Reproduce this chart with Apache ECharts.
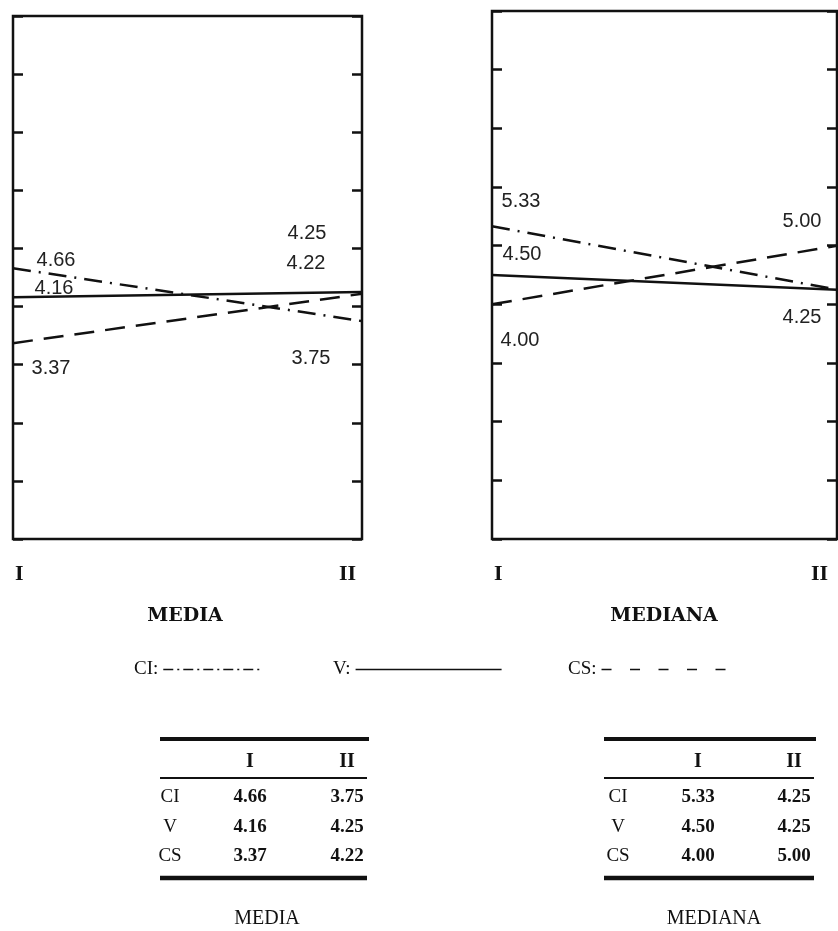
<!DOCTYPE html>
<html>
<head>
<meta charset="utf-8">
<script src="https://cdn.jsdelivr.net/npm/echarts@6/dist/echarts.min.js"></script>
<style>
html,body{margin:0;padding:0;background:#fff;}
#chart{width:838px;height:931px;}
</style>
</head>
<body>
<div id="chart"></div>
<script>
// ---- data ----
const categories = ['I', 'II'];
const seriesNames = ['CI', 'V', 'CS'];
const mediaCI = [4.66, 3.75];
const mediaV = [4.16, 4.25];
const mediaCS = [3.37, 4.22];
const medianaCI = [5.33, 4.25];
const medianaV = [4.50, 4.25];
const medianaCS = [4.00, 5.00];
const yMin = 0, yMax = 9, yStep = 1;
const panelTitles = ['MEDIA', 'MEDIANA'];

// ---- layout (label offsets relative to points; null = hidden) ----
const mediaOffsets = {
  CI: [[43, -8], [-51, 37]],
  V: [[41, -9], [-55, -59]],
  CS: [[38, 25], [-56, -30]]
};
const medianaOffsets = {
  CI: [[29, -25], null],
  V: [[30, -21], [-35, 28]],
  CS: [[28, 36], [-35, -24]]
};

const dashStyles = {
  CI: [18, 8, 2, 8],
  V: 'solid',
  CS: [20, 11]
};
const legendDash = {
  CI: [10, 4, 2, 4],
  V: 'solid',
  CS: [10, 18.5]
};

const chart = echarts.init(document.getElementById('chart'));

function buildData(values, offsets) {
  return values.map((v, i) => {
    const off = offsets[i];
    return {
      value: v,
      label: off ? { show: true, offset: off } : { show: false }
    };
  });
}

function makeSeries(name, values, offsets, gridIdx) {
  return {
    type: 'line',
    name: name,
    xAxisIndex: gridIdx,
    yAxisIndex: gridIdx * 2,
    data: buildData(values, offsets),
    symbol: 'circle',
    symbolSize: 1,
    showAllSymbol: true,
    itemStyle: { color: 'rgba(0,0,0,0)', borderWidth: 0 },
    lineStyle: { color: '#111', width: 2.5, type: dashStyles[name], cap: 'butt' },
    label: {
      show: true,
      position: 'inside',
      formatter: p => Number(p.value).toFixed(2),
      fontFamily: 'Liberation Sans',
      fontSize: 20,
      color: '#222'
    },
    emphasis: { disabled: true },
    animation: false,
    z: 3
  };
}

const mediaSets = { CI: mediaCI, V: mediaV, CS: mediaCS };
const medianaSets = { CI: medianaCI, V: medianaV, CS: medianaCS };

const series = [];
seriesNames.forEach(n => series.push(makeSeries(n, mediaSets[n], mediaOffsets[n], 0)));
seriesNames.forEach(n => series.push(makeSeries(n, medianaSets[n], medianaOffsets[n], 1)));

function yAx(gridIndex, pos) {
  return {
    type: 'value', gridIndex: gridIndex, position: pos,
    min: yMin, max: yMax, interval: yStep,
    axisLine: { show: false },
    axisTick: { show: true, inside: true, length: 10, lineStyle: { color: '#111', width: 2.5 } },
    axisLabel: { show: false },
    splitLine: { show: false }
  };
}

function xAx(gridIndex, padR) {
  return {
    type: 'category', gridIndex: gridIndex, data: categories,
    boundaryGap: false,
    axisLine: { show: false },
    axisTick: { show: false },
    axisLabel: {
      margin: 24,
      fontFamily: 'Liberation Serif',
      fontWeight: 'bold',
      fontSize: 22,
      color: '#111',
      alignMinLabel: 'left',
      alignMaxLabel: 'right',
      padding: [0, padR, 0, 2]
    }
  };
}

// ---- tables ----
const tableFont = 'Liberation Serif';
function buildTable(cfg, sets, caption) {
  const els = [];
  const line = (x1, x2, y, w) => els.push({
    type: 'line', shape: { x1: x1, y1: y, x2: x2, y2: y },
    style: { stroke: '#111', lineWidth: w }
  });
  const txt = (t, x, y, size, weight) => els.push({
    type: 'text', x: x, y: y,
    style: { text: t, fill: '#111', fontFamily: tableFont, fontSize: size, fontWeight: weight, align: 'center', verticalAlign: 'middle' }
  });
  line(cfg.x1, cfg.x2, 739, 4);
  categories.forEach((c, i) => txt(c, cfg.cols[i], 762, 20, 'bold'));
  line(cfg.x1, cfg.x2 - 2, 778, 2);
  const rowsY = [797, 827, 856];
  seriesNames.forEach((n, r) => {
    txt(n, cfg.labelX, rowsY[r], 19, 'normal');
    sets[n].forEach((v, i) => txt(v.toFixed(2), cfg.cols[i], rowsY[r], 19, 'bold'));
  });
  line(cfg.x1, cfg.x2 - 2, 878, 4.5);
  txt(caption, cfg.capX, 919, 20, 'normal');
  return els;
}

const graphics = []
  .concat(buildTable({ x1: 160, x2: 369, cols: [250, 347], labelX: 170, capX: 267 }, mediaSets, panelTitles[0]))
  .concat(buildTable({ x1: 604, x2: 816, cols: [698, 794], labelX: 618, capX: 714 }, medianaSets, panelTitles[1]));

function legendFor(name, left, width) {
  return {
    data: [name], left: left, top: 660, padding: 0,
    align: 'right', itemWidth: width, itemHeight: 14,
    formatter: '{name}:',
    selectedMode: false,
    textStyle: { fontFamily: 'Liberation Serif', fontSize: 19, color: '#111' },
    lineStyle: { type: legendDash[name], width: 1.5, color: '#111' },
    itemStyle: { color: 'rgba(0,0,0,0)', borderWidth: 0 }
  };
}

const titleStyle = { fontFamily: 'DejaVu Serif', fontWeight: 'bold', fontSize: 19, color: '#111' };

const option = {
  backgroundColor: '#fff',
  animation: false,
  title: [
    { text: panelTitles[0], left: 185, top: 607, textAlign: 'center', padding: 0, textStyle: titleStyle },
    { text: panelTitles[1], left: 664, top: 607, textAlign: 'center', padding: 0, textStyle: titleStyle }
  ],
  legend: [
    legendFor('CI', 134, 100),
    legendFor('V', 333, 146),
    legendFor('CS', 568, 124)
  ],
  grid: [
    { left: 13, right: 476, top: 16, bottom: 392, show: true, borderColor: '#111', borderWidth: 2.5, backgroundColor: 'transparent' },
    { left: 492, right: 1, top: 11, bottom: 392, show: true, borderColor: '#111', borderWidth: 2.5, backgroundColor: 'transparent' }
  ],
  xAxis: [xAx(0, 6), xAx(1, 9)],
  yAxis: [yAx(0, 'left'), yAx(0, 'right'), yAx(1, 'left'), yAx(1, 'right')],
  series: series,
  graphic: graphics
};

chart.setOption(option);
</script>
</body>
</html>
